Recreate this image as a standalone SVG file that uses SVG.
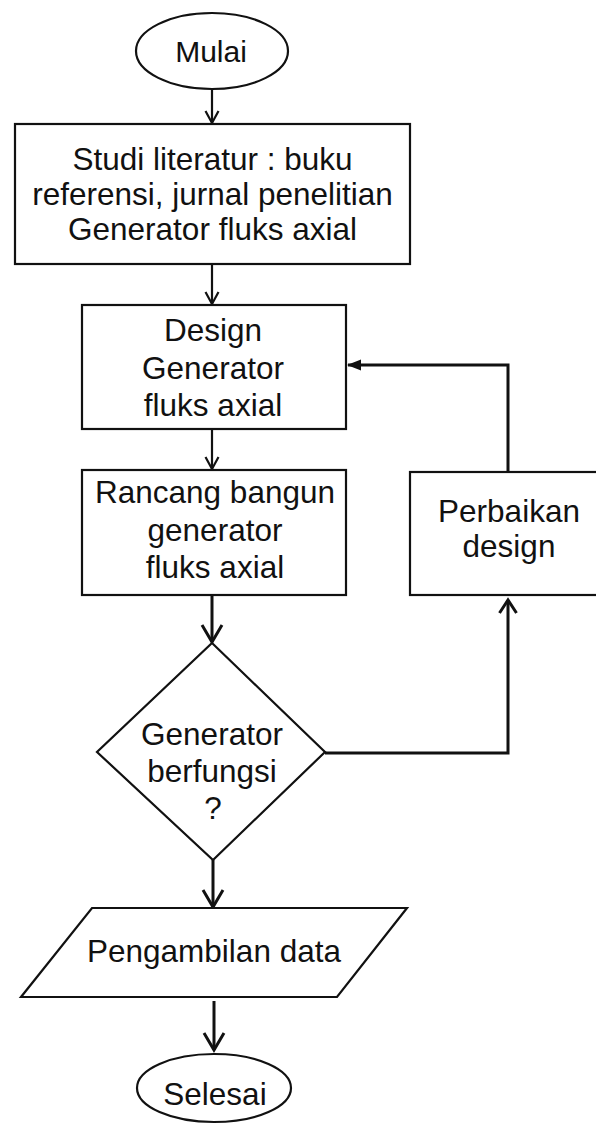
<svg xmlns="http://www.w3.org/2000/svg" width="596" height="1125" viewBox="0 0 596 1125">
  <style>
    .shape { fill: #ffffff; stroke: #111111; stroke-width: 2.2; }
    .t { font-family: "Liberation Sans", Arial, sans-serif; font-size: 31.5px; fill: #111111; text-anchor: middle; }
    .c { fill: none; stroke: #111111; }
    .thin { stroke-width: 2.2; }
    .thick { stroke-width: 3; }
  </style>
  <defs>
    <marker id="vSmall" viewBox="0 -8 13 16" markerUnits="userSpaceOnUse" markerWidth="13" markerHeight="16" refX="12" refY="0" orient="auto" overflow="visible">
      <path d="M0,-6.5 L12,0 L0,6.5" fill="none" stroke="#111111" stroke-width="2.2"/>
    </marker>
    <marker id="vUp" viewBox="0 -10 14 20" markerUnits="userSpaceOnUse" markerWidth="14" markerHeight="20" refX="13" refY="0" orient="auto" overflow="visible">
      <path d="M0,-8.5 L13,0 L0,8.5" fill="none" stroke="#111111" stroke-width="3"/>
    </marker>
    <marker id="vLarge" viewBox="0 -12 18 24" markerUnits="userSpaceOnUse" markerWidth="18" markerHeight="24" refX="17" refY="0" orient="auto" overflow="visible">
      <path d="M0,-10 L17,0 L0,10" fill="none" stroke="#111111" stroke-width="3"/>
    </marker>
    <marker id="solid" viewBox="0 -6 14 12" markerUnits="userSpaceOnUse" markerWidth="14" markerHeight="12" refX="13" refY="0" orient="auto" overflow="visible">
      <path d="M0,-5.5 L14,0 L0,5.5 Z" fill="#111111"/>
    </marker>
  </defs>
  <rect x="0" y="0" width="596" height="1125" fill="#ffffff"/>

  <g id="connectors">
    <path class="c thin" d="M212,89 V123" marker-end="url(#vSmall)"/>
    <path class="c thin" d="M212,264 V304" marker-end="url(#vSmall)"/>
    <path class="c thin" d="M212,429 V469" marker-end="url(#vSmall)"/>
    <path class="c thick" d="M212,595 V642" marker-end="url(#vLarge)"/>
    <path class="c thick" d="M325,753 H508 V600" marker-end="url(#vUp)"/>
    <path class="c thick" d="M508,472 V365 H348" marker-end="url(#solid)"/>
    <path class="c thick" d="M213,860 V907" marker-end="url(#vLarge)"/>
    <path class="c thick" d="M214,1001 V1050" marker-end="url(#vLarge)"/>
  </g>

  <g id="mulai">
    <ellipse class="shape" cx="212" cy="51" rx="76" ry="38"/>
    <text class="t" x="211" y="62" style="font-size:30px">Mulai</text>
  </g>

  <g id="studi-literatur">
    <rect class="shape" x="15" y="124" width="395" height="140"/>
    <text class="t" x="212.5" y="170">Studi literatur : buku</text>
    <text class="t" x="212.5" y="205">referensi, jurnal penelitian</text>
    <text class="t" x="212.5" y="240">Generator fluks axial</text>
  </g>

  <g id="design">
    <rect class="shape" x="82" y="305" width="264" height="124"/>
    <text class="t" x="213" y="341">Design</text>
    <text class="t" x="213" y="379">Generator</text>
    <text class="t" x="213" y="416">fluks axial</text>
  </g>

  <g id="rancang-bangun">
    <rect class="shape" x="82" y="470" width="264" height="125"/>
    <text class="t" x="215" y="503">Rancang bangun</text>
    <text class="t" x="215" y="541">generator</text>
    <text class="t" x="215" y="578">fluks axial</text>
  </g>

  <g id="perbaikan-design">
    <rect class="shape" x="410" y="472" width="200" height="123"/>
    <text class="t" x="509" y="522">Perbaikan</text>
    <text class="t" x="509" y="557">design</text>
  </g>

  <g id="generator-berfungsi">
    <polygon class="shape" points="212,643 325,752 213,860 97,752"/>
    <text class="t" x="212" y="745">Generator</text>
    <text class="t" x="212" y="782">berfungsi</text>
    <text class="t" x="213" y="819">?</text>
  </g>

  <g id="pengambilan-data">
    <polygon class="shape" points="92,908 407,908 337,997 21,997"/>
    <text class="t" x="214" y="962">Pengambilan data</text>
  </g>

  <g id="selesai">
    <ellipse class="shape" cx="214" cy="1088" rx="77" ry="34"/>
    <text class="t" x="215" y="1105">Selesai</text>
  </g>
</svg>
